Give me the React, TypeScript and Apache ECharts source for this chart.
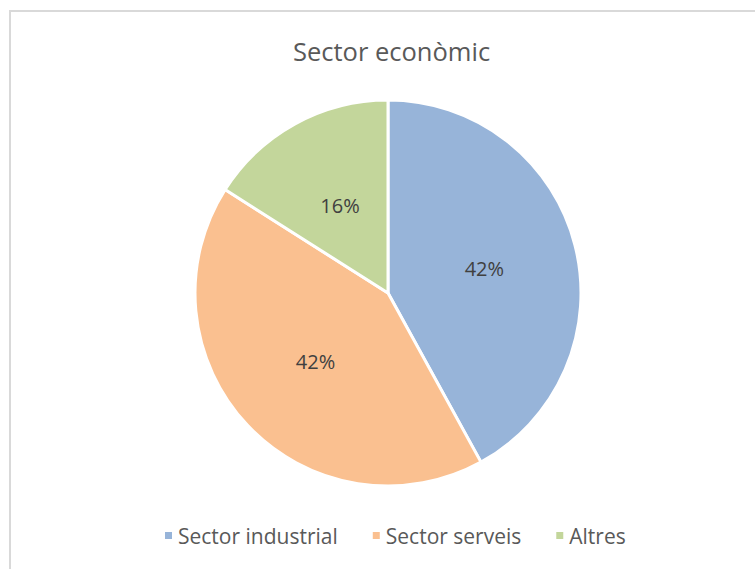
import React, { useEffect, useRef } from "react";
import * as echarts from "echarts";

const categories = ["Sector industrial", "Sector serveis", "Altres"];
const values = [42, 42, 16];
const colors = ["#97b4d9", "#fac090", "#c3d69b"];
const titleText = "Sector econòmic";

export default function App() {
  const ref = useRef<HTMLDivElement>(null);
  useEffect(() => {
    const chart = echarts.init(ref.current!, null, { renderer: "svg" });
    const font = "'Open Sans', 'Noto Sans', sans-serif";
    chart.setOption({
      animation: false,
      backgroundColor: "#ffffff",
      title: {
        text: titleText,
        left: 288,
        top: 33,
        textStyle: { fontFamily: font, fontSize: 25.5, fontWeight: "normal", color: "#595959" },
      },
      legend: {
        data: categories,
        bottom: 18,
        left: 158,
        icon: "rect",
        itemWidth: 9,
        itemHeight: 9,
        itemGap: 33,
        textStyle: { fontFamily: font, fontSize: 21, color: "#595959" },
      },
      graphic: [
        {
          type: "rect",
          shape: { x: 10, y: 11, width: 760, height: 580 },
          style: { fill: "none", stroke: "#d9d9d9", lineWidth: 2 },
          silent: true,
        },
      ],
      series: [
        {
          type: "pie",
          center: [388, 293],
          radius: [0, 193],
          startAngle: 90,
          clockwise: true,
          data: categories.map((c, i) => ({ name: c, value: values[i], itemStyle: { color: colors[i] } })),
          itemStyle: { borderColor: "#ffffff", borderWidth: 3 },
          label: {
            show: true,
            position: "inside",
            formatter: (p: any) => Math.round(p.percent) + "%",
            fontFamily: font,
            fontSize: 20,
            color: "#404040",
          },
          labelLine: { show: false },
        },
      ],
    });
    return () => chart.dispose();
  }, []);
  return (
    <div
      ref={ref}
      style={{ position: "absolute", left: 0, top: 0, width: 755, height: 569 }}
    />
  );
}
